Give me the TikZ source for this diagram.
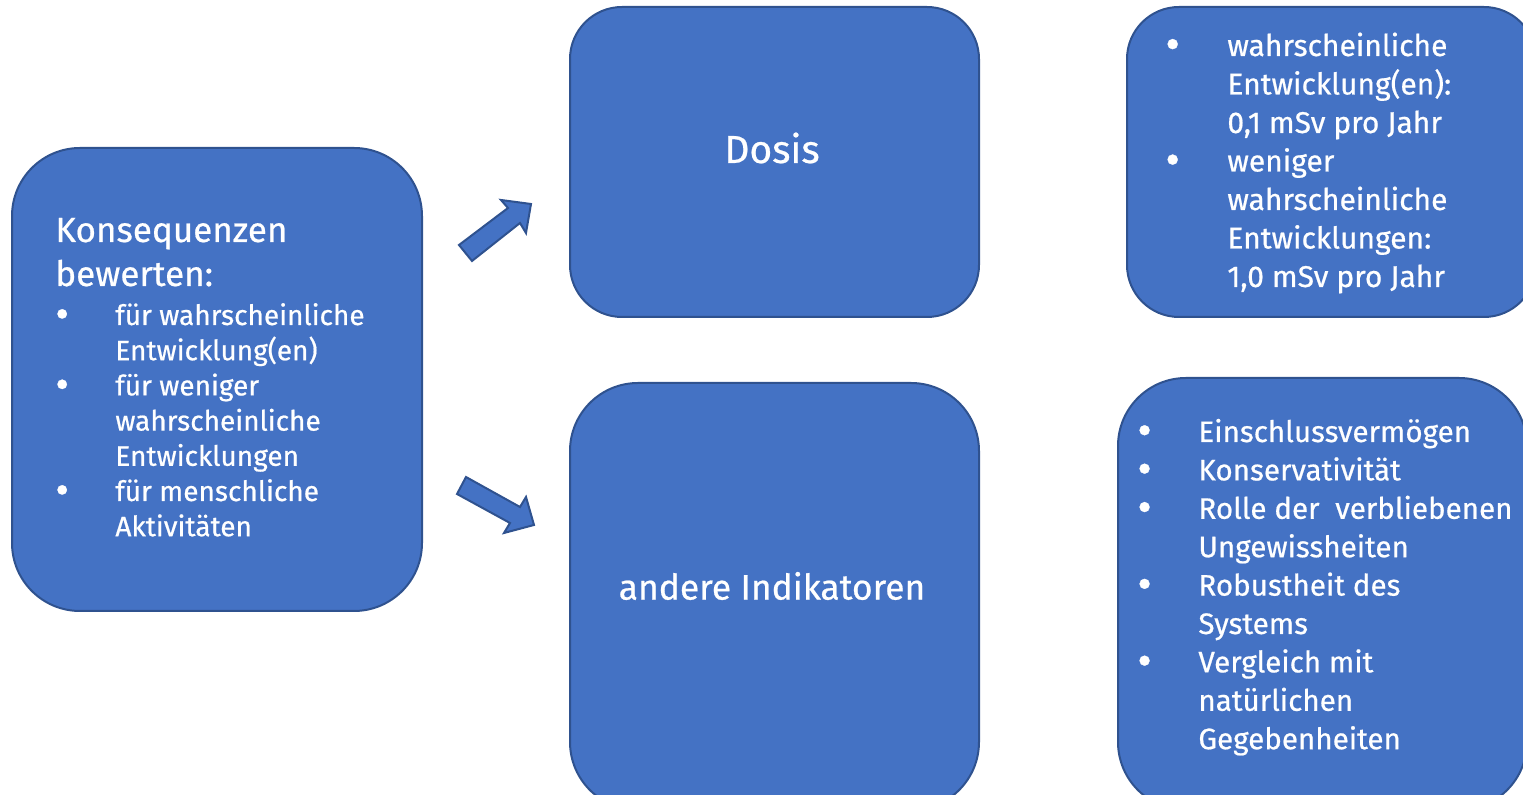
\documentclass[tikz,border=0pt]{standalone}
\usepackage{fontspec}
\setmainfont[FakeBold=0.6]{Fira Sans}
\newfontfamily\boxfont[FakeBold=0.6]{Fira Sans}
\usetikzlibrary{positioning}
\definecolor{boxblue}{HTML}{4472C4}
\definecolor{boxedge}{HTML}{2F528F}
\tikzset{
  panel/.style={draw=boxedge, fill=boxblue, line width=1pt, rounded corners=#1},
  panel/.default=34pt,
  blockarrow/.style={draw=boxedge, fill=boxblue, line width=1pt, line join=miter},
  txt/.style={text=white, inner sep=0pt, anchor=base west},
}
\newcommand{\bul}{\smash{\raisebox{-0.22ex}{\scalebox{1.5}{\textbullet}}}}
\begin{document}
\begin{tikzpicture}[x=0.5pt,y=-0.5pt]
  \useasboundingbox (0,0) rectangle (1523,795);
  \clip (0,0) rectangle (1523,795);

  % panels
  \node[panel, minimum width=205pt, minimum height=231.5pt] (konseq) at (217,379.5) {};
  \node[panel=26pt, minimum width=204.5pt, minimum height=155pt] (dosis) at (774.5,162) {};
  \node[panel, minimum width=204.5pt, minimum height=213.5pt] (indik) at (774.5,596.5) {};
  \node[panel=26pt, minimum width=204.5pt, minimum height=155pt] (dosiswerte) at (1331.5,162) {};
  \node[panel, minimum width=204.5pt, minimum height=216pt] (indikliste) at (1322.5,594) {};

  % block arrows
  \draw[blockarrow] (459,245) -- (508,208) -- (501,200) -- (531,204)
    -- (526,233) -- (520,223) -- (472,261) -- cycle;
  \draw[blockarrow] (466,477) -- (520,507) -- (526,497) -- (534,525)
    -- (504,533) -- (510,523) -- (457,494) -- cycle;

  % texts
  \node[txt, font=\boxfont\fontsize{17.5}{22}\selectfont] (konseqkopf) at (55,242)
    {\begin{tabular}[t]{@{}l@{}}Konsequenzen\\bewerten:\end{tabular}};
  \node[txt, font=\boxfont\fontsize{14}{17.6}\selectfont] (konseqliste) at (55,325)
    {\begin{tabular}[t]{@{}p{30pt}@{}l@{}}
      \bul & für wahrscheinliche\\
           & Entwicklung(en)\\
      \bul & für weniger\\
           & wahrscheinliche\\
           & Entwicklungen\\
      \bul & für menschliche\\
           & Aktivitäten
    \end{tabular}};
  \node[text=white, font=\boxfont\fontsize{19.5}{22}\selectfont] (dosistext) at (772,148) {Dosis};
  \node[text=white, font=\boxfont\fontsize{17.7}{22}\selectfont] (indiktext) at (772,586) {andere Indikatoren};
  \node[txt, font=\boxfont\fontsize{15}{19.25}\selectfont] (dosisliste) at (1165,56)
    {\begin{tabular}[t]{@{}p{31pt}@{}l@{}}
      \bul & wahrscheinliche\\
           & Entwicklung(en):\\
           & 0,1 mSv pro Jahr\\
      \bul & weniger\\
           & wahrscheinliche\\
           & Entwicklungen:\\
           & 1,0 mSv pro Jahr
    \end{tabular}};
  \node[txt, font=\boxfont\fontsize{14.8}{19.2}\selectfont] (indikaufz) at (1137,442)
    {\begin{tabular}[t]{@{}p{30.5pt}@{}l@{}}
      \bul & Einschlussvermögen\\
      \bul & Konservativität\\
      \bul & Rolle der\ \ verbliebenen\\
           & Ungewissheiten\\
      \bul & Robustheit des\\
           & Systems\\
      \bul & Vergleich mit\\
           & natürlichen\\
           & Gegebenheiten
    \end{tabular}};
\end{tikzpicture}
\end{document}
